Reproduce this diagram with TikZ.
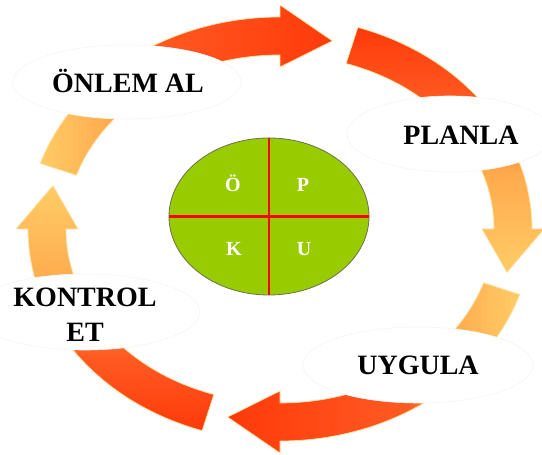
\documentclass[tikz,border=0pt]{standalone}
\usepackage{fontspec}
\setmainfont{Liberation Serif}
\usetikzlibrary{shapes.geometric}
\definecolor{oL}{HTML}{FFCC66}
\definecolor{oM}{HTML}{FFAA4D}
\definecolor{rA}{HTML}{FF5A22}
\definecolor{rB}{HTML}{FF3A0A}
\definecolor{ovalgreen}{HTML}{99CC00}
\definecolor{ovalrim}{HTML}{6E6E50}
\definecolor{glow}{HTML}{FFE2A0}
\definecolor{crossred}{HTML}{FF0000}
\pgfdeclarehorizontalshading{tbshade}{100bp}{color(0bp)=(oL); color(25bp)=(oL); color(37bp)=(oM); color(44bp)=(rA); color(75bp)=(rB); color(100bp)=(rB)}
\pgfdeclarehorizontalshading{sideshade}{100bp}{color(0bp)=(oL); color(25bp)=(oL); color(45bp)=(oM); color(60bp)=(rA); color(75bp)=(rB); color(100bp)=(rB)}
\newcommand{\cyclearrow}[5]{%
  \shadedraw[arrowpiece, shading=#4, shading angle=#5]
   ({252*cos(#1)},{212*sin(#1)}) arc[start angle=#1, end angle=#2, x radius=252pt, y radius=212pt]
   -- ({264*cos(#2)},{224*sin(#2)}) -- ({233*cos(#3)},{193*sin(#3)})
   -- ({202*cos(#2)},{162*sin(#2)}) -- ({214*cos(#2)},{174*sin(#2)})
   arc[start angle=#2, end angle=#1, x radius=214pt, y radius=174pt] -- cycle;}
\tikzset{
  arrowpiece/.style={draw=glow, line width=0.7pt},
  bubble/.style={ellipse, fill=white, draw=black!4, line width=0.6pt, inner sep=0pt},
  steplabel/.style={font=\fontsize{28}{35}\selectfont\bfseries, text=black, inner sep=0pt, anchor=base},
  oval/.style={ellipse, fill=ovalgreen, draw=ovalrim, line width=0.8pt, inner sep=0pt, outer sep=0pt, minimum width=200pt, minimum height=157pt},
  cross/.style={draw=crossred, line width=2.2pt},
  quarter/.style={font=\fontsize{20}{22}\selectfont\bfseries, text=white, inner sep=0pt, anchor=base}
}
\begin{document}
\begin{tikzpicture}[x=1pt, y=1pt]
\fill[white] (0,0) rectangle (542,455);
\useasboundingbox (0,0) rectangle (542,455);
% cycle arrows
\begin{scope}[shift={(280,226)}]
  \cyclearrow{162}{90}{77}{tbshade}{0}
  \cyclearrow{72}{0}{-13}{sideshade}{90}
  \cyclearrow{-18}{-90}{-103}{tbshade}{180}
  \cyclearrow{-108}{-180}{-193}{sideshade}{270}
\end{scope}
% label bubbles
\node[bubble, minimum width=228pt, minimum height=74pt] (onlemB) at (127,373) {};
\node[bubble, minimum width=206pt, minimum height=76pt] (planB) at (450,321) {};
\node[bubble, minimum width=230pt, minimum height=76pt] (uygB) at (418,90) {};
\node[bubble, minimum width=230pt, minimum height=76pt] (kontB) at (85,143) {};
% labels
\node[steplabel] (onlem) at (128,362) {ÖNLEM AL};
\node[steplabel] (plan) at (461,310) {PLANLA};
\node[steplabel] (uyg) at (418,80) {UYGULA};
\node[steplabel, anchor=center, align=center] (kont) at (85,140.5) {KONTROL\\ET};
% centre oval
\node[oval] (pdca) at (269,238.5) {};
\draw[cross] (pdca.north) -- (pdca.south);
\draw[cross] (pdca.west) -- (pdca.east);
\node[quarter] (qO) at (233,263.3) {Ö};
\node[quarter] (qP) at (303,263.3) {P};
\node[quarter] (qK) at (234,199) {K};
\node[quarter] (qU) at (304,199) {U};
\end{tikzpicture}
\end{document}
